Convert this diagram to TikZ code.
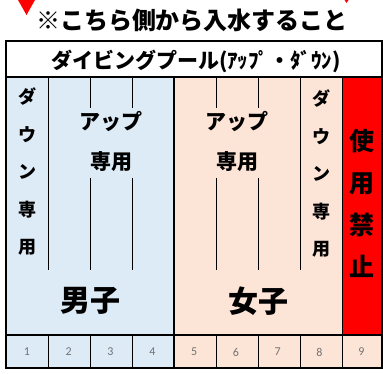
\documentclass[tikz,border=0pt]{standalone}
\usepackage{fontspec}
\setmainfont{Noto Sans CJK JP}
\newfontfamily\numfont{Carlito}
\usetikzlibrary{positioning}
\definecolor{boyblue}{HTML}{DDEBF7}
\definecolor{girlpink}{HTML}{FCE4D6}
\definecolor{closedred}{HTML}{FF0000}

\begin{document}
\begin{tikzpicture}[x=1pt,y=-1pt,
  thin lane/.style={draw=black, line width=0.7pt},
  thick rule/.style={draw=black, line width=1.6pt},
  jp/.style={inner sep=0pt, font=\fontsize{21}{21}\selectfont\bfseries},
  vjp/.style={inner sep=0pt, align=center, font=\fontsize{18}{37.5}\selectfont\bfseries},
  num/.style={inner sep=0pt, text=black!55, font=\numfont\fontsize{12}{12}\selectfont}]
\useasboundingbox (0,0) rectangle (383,374);

\fill[closedred] (18,0) -- (35,0) -- (26.5,15) -- cycle;
\fill[closedred] (344.5,0) -- (348.5,0) -- (346.5,3) -- cycle;
\node[inner sep=0pt, font=\fontsize{24}{24}\selectfont\bfseries] (notice) at (192,20) {※こちら側から入水すること};

\fill[white] (6,41) rectangle (382,77);
\fill[boyblue] (6,77) rectangle (174,368);
\fill[girlpink] (174,77) rectangle (382,368);
\fill[closedred] (342,77) rectangle (382,335);

\node[jp] (title) at (196,61) {ダイビングプール(ｱｯﾌﾟ・ﾀﾞｳﾝ)};

% lanes
\foreach \x in {48,300} \draw[thin lane] (\x,77) -- (\x,270);
\foreach \x in {90,132,216,258} {
  \draw[thin lane] (\x,77) -- (\x,108);
  \draw[thin lane] (\x,178) -- (\x,270);
}
\draw[thin lane] (342,77) -- (342,335);
\foreach \x in {48,90,132,216,258,300,342} \draw[thin lane] (\x,335) -- (\x,368);

\node[vjp] (down boys) at (27,172) {ダ\\ウ\\ン\\専\\用};
\node[vjp] (down girls) at (321,174) {ダ\\ウ\\ン\\専\\用};
\node[jp] (up boys) at (111,122) {アップ};
\node[jp, below=19pt of up boys] (up boys2) {専用};
\node[jp] (up girls) at (237,122) {アップ};
\node[jp, below=19pt of up girls] (up girls2) {専用};
\node[inner sep=0pt, align=center, font=\fontsize{25}{42}\selectfont\bfseries] (closed) at (362,203) {使\\用\\禁\\止};

\node[inner sep=0pt, font=\fontsize{30}{30}\selectfont\bfseries] (boys) at (90,301) {男子};
\node[inner sep=0pt, font=\fontsize{30}{30}\selectfont\bfseries] (girls) at (258,301) {女子};

\foreach \n [count=\i] in {1,...,9}
  \node[num] (lane\n) at (6+41.8*\i-20.9,352) {\n};

\draw[thick rule] (6,77) -- (382,77);
\draw[thick rule] (6,335) -- (382,335);
\draw[thick rule] (174,77) -- (174,368);
\draw[thick rule] (6,41) rectangle (382,368);
\end{tikzpicture}
\end{document}
